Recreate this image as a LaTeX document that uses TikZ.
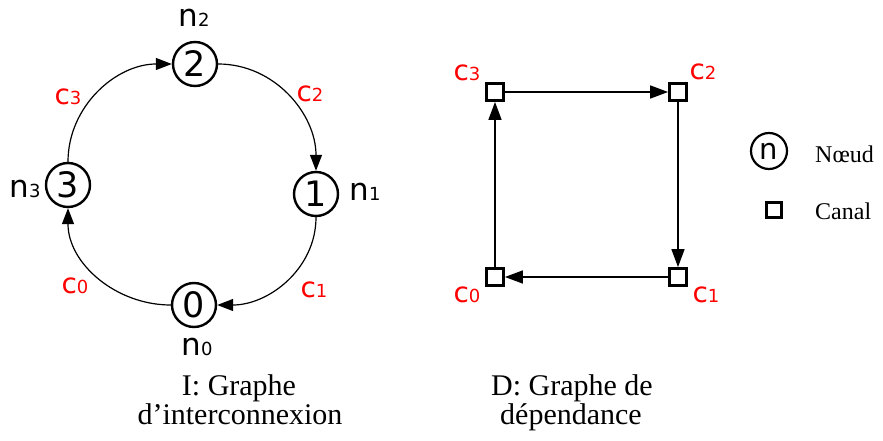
\documentclass[tikz,border=0pt]{standalone}
\usepackage{fontspec}
\setmainfont{Liberation Serif}
\newfontfamily\dvs{DejaVu Sans}
\usetikzlibrary{arrows.meta}
\definecolor{lred}{RGB}{255,0,0}
\newcommand\nlab[2]{{\dvs\fontsize{31}{31}\selectfont #1\fontsize{18}{18}\selectfont #2}}
\newcommand\clab[2]{{\dvs\color{lred}\fontsize{28}{28}\selectfont #1\fontsize{18}{18}\selectfont #2}}
\begin{document}
\begin{tikzpicture}[x=1pt,y=-1pt,
 nd/.style={circle,draw,line width=2.4pt,minimum size=44pt,inner sep=0pt,font=\dvs\fontsize{35}{35}\selectfont},
 ch/.style={rectangle,draw,line width=2.8pt,minimum size=17pt,inner sep=0pt},
 arcedge/.style={line width=1.2pt,-{Triangle[length=16pt,width=12pt]}},
 depedge/.style={line width=1.5pt,-{Triangle[length=18pt,width=13pt]}},
 lab/.style={anchor=base,inner sep=0pt},
 captxt/.style={anchor=base,inner sep=0pt,font=\fontsize{30}{30}\selectfont},
 legtxt/.style={anchor=base west,inner sep=0pt,font=\fontsize{24}{24}\selectfont}]
\useasboundingbox (0,0) rectangle (883,441);

% interconnection graph
\node[nd] (n2) at (195,64) {2};
\node[nd] (n1) at (316,194) {1};
\node[nd] (n0) at (194,305) {0};
\node[nd] (n3) at (68,185) {3};

\draw[arcedge] (n2.east) to[out=0,in=90] (n1.north);
\draw[arcedge] (n1.south) to[out=-90,in=0] (n0.east);
\draw[arcedge] (n0.west) to[out=180,in=-90] (n3.south);
\draw[arcedge] (n3.north) to[out=90,in=180] (n2.west);

\node[lab] (ln2) at (194,27) {\nlab{n}{2}};
\node[lab] (ln1) at (365,200) {\nlab{n}{1}};
\node[lab] (ln3) at (25,197) {\nlab{n}{3}};
\node[lab] (ln0) at (197,355) {\nlab{n}{0}};

\node[lab] (lc3) at (68,105) {\clab{c}{3}};
\node[lab] (lc2) at (310,102) {\clab{c}{2}};
\node[lab] (lc1) at (314,297) {\clab{c}{1}};
\node[lab] (lc0) at (75,293) {\clab{c}{0}};

% dependency graph
\node[ch] (s3) at (495,92) {};
\node[ch] (s2) at (678,92) {};
\node[ch] (s1) at (678,277) {};
\node[ch] (s0) at (495,277) {};

\draw[depedge] (s3) -- (s2);
\draw[depedge] (s2) -- (s1);
\draw[depedge] (s1) -- (s0);
\draw[depedge] (s0) -- (s3);

\node[lab] (dc3) at (467,81) {\clab{c}{3}};
\node[lab] (dc2) at (703,80) {\clab{c}{2}};
\node[lab] (dc1) at (706,302) {\clab{c}{1}};
\node[lab] (dc0) at (467,302) {\clab{c}{0}};

% legend
\node[circle,draw,line width=2.2pt,minimum size=36pt,inner sep=0pt,font=\dvs\fontsize{29}{29}\selectfont] (legn) at (769,151) {n};
\node[legtxt] (legnt) at (815,162) {Nœud};
\node[rectangle,draw,line width=2.8pt,minimum size=15pt,inner sep=0pt] (legc) at (774,210) {};
\node[legtxt] (legct) at (815,219) {Canal};

% captions
\node[captxt] (capIa) at (239,395) {I: Graphe};
\node[captxt] (capIb) at (240,424) {d’interconnexion};
\node[captxt] (capDa) at (572,395) {D: Graphe de};
\node[captxt] (capDb) at (571,424) {dépendance};
\end{tikzpicture}
\end{document}
